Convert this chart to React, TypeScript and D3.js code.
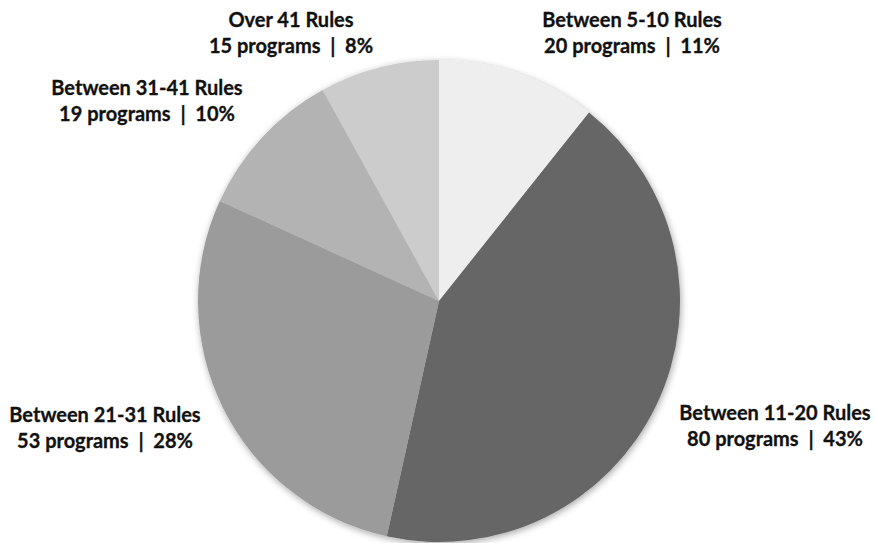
import { useEffect, useRef } from 'react';
import * as d3 from 'd3';

const categories = ['Between 5-10 Rules', 'Between 11-20 Rules', 'Between 21-31 Rules', 'Between 31-41 Rules', 'Over 41 Rules'];
const programs = [20, 80, 53, 19, 15];
const percents = ['11%', '43%', '28%', '10%', '8%'];
const colors = ['#eeeeee', '#666666', '#9b9b9b', '#b3b3b3', '#cccccc'];

// where Excel put each label (center of the two-line block)
const labelPos = [
  [632, 20], [775, 413], [105, 415], [147, 88], [291, 20],
];

export default function App() {
  const svgRef = useRef<SVGSVGElement>(null);

  useEffect(() => {
    const svg = d3.select(svgRef.current);
    svg.selectAll('*').remove();

    const width = 875, height = 543;
    const cx = 439, cy = 301, r = 241;

    const defs = svg.append('defs');
    const f = defs.append('filter').attr('id', 'shadow')
      .attr('x', '-20%').attr('y', '-20%').attr('width', '140%').attr('height', '140%');
    f.append('feDropShadow').attr('dx', 1).attr('dy', 2).attr('stdDeviation', 3.5)
      .attr('flood-color', '#000').attr('flood-opacity', 0.35);

    svg.append('rect').attr('width', width).attr('height', height).attr('fill', '#fff');

    const pie = d3.pie<number>().sort(null).value(d => d);
    const arc = d3.arc<d3.PieArcDatum<number>>().innerRadius(0).outerRadius(r);

    const g = svg.append('g').attr('transform', `translate(${cx},${cy})`);
    g.append('g').attr('filter', 'url(#shadow)')
      .selectAll('path')
      .data(pie(programs))
      .enter().append('path')
      .attr('d', arc)
      .attr('fill', (_, i) => colors[i]);

    const labels = svg.append('g')
      .attr('font-family', 'Lato, "Open Sans", sans-serif')
      .attr('font-weight', 700)
      .attr('font-size', 20)
      .attr('fill', '#111')
      .attr('stroke', '#111')
      .attr('stroke-width', 0.3)
      .attr('text-anchor', 'middle');

    categories.forEach((c, i) => {
      const [x, y] = labelPos[i];
      const t = labels.append('text').attr('x', x).attr('y', y);
      t.append('tspan').attr('x', x).attr('dy', '0.35em').text(c);
      t.append('tspan').attr('x', x).attr('dy', 26)
        .attr('xml:space', 'preserve')
        .text(`${programs[i]} programs  |  ${percents[i]}`);
    });
  }, []);

  return <svg ref={svgRef} width={875} height={543} style={{ display: 'block', position: 'absolute', left: 0, top: 0 }}></svg>;
}
